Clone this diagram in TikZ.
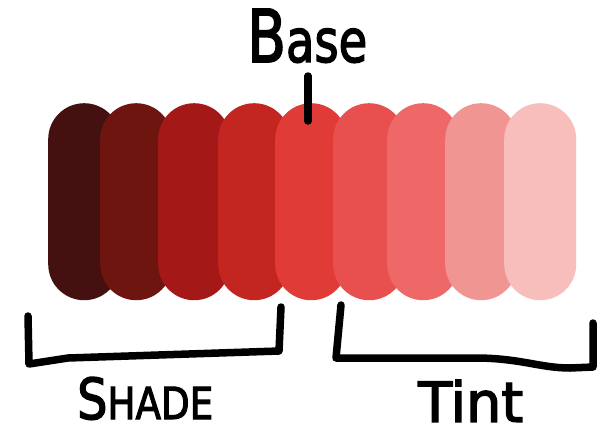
\documentclass[tikz,border=0pt]{standalone}
\usepackage{fontspec}
\newfontfamily\hand[FakeBold=2.6]{DejaVu Sans}
\usepackage{graphicx}
% tone ramp, darkest shade to lightest tint
\definecolor{c1}{HTML}{441010}
\definecolor{c2}{HTML}{6D150E}
\definecolor{c3}{HTML}{A41818}
\definecolor{c4}{HTML}{C32521}
\definecolor{c5}{HTML}{E03B36}
\definecolor{c6}{HTML}{E84F4F}
\definecolor{c7}{HTML}{EE6868}
\definecolor{c8}{HTML}{F19593}
\definecolor{c9}{HTML}{F7BEBC}
\begin{document}
\begin{tikzpicture}[x=1pt,y=-1pt,
  pill/.style={draw=none, rounded corners=36pt, minimum width=72pt,
    minimum height=197pt, inner sep=0pt, anchor=north west},
  ink/.style={line width=7.5pt, line cap=round, line join=round, black},
  txt/.style={inner sep=0pt, anchor=south west, font=\hand}]
\useasboundingbox (0,0) rectangle (601,426);
\fill[white] (0,0) rectangle (601,426);

% swatches, each one overlapping the previous
\foreach \x/\c [count=\i] in {48/c1,100/c2,158/c3,218/c4,275/c5,333/c6,387/c7,445/c8,504/c9}
  \node[pill, fill=\c] (p\i) at (\x,103) {};

% base marker
\coordinate (tickTop) at (308,76);
\coordinate (tickBot) at (308,121);
\draw[ink] (tickTop) -- (tickBot);
\node[txt] (base) at (247,63) {\resizebox{120pt}{53pt}{B\fontsize{8.2pt}{9pt}\selectfont ase}};

% shade bracket
\coordinate (sA) at (28,316);
\coordinate (sB) at (29,364);
\coordinate (sC) at (68,358);
\coordinate (sD) at (279,351);
\coordinate (sE) at (281,307);
\draw[ink] (sA) -- (sB) -- (sC) -- (sD) -- (sE);
\node[txt] (shade) at (77,420)
  {\resizebox{136pt}{42pt}{S{\fontsize{7.8pt}{9pt}\selectfont HADE}}};

% tint bracket
\coordinate (tA) at (341,305);
\coordinate (tB) at (336,358);
\coordinate (tC) at (475,358);
\coordinate (tD) at (570,368);
\coordinate (tE) at (593,367);
\coordinate (tF) at (593,323);
\draw[ink] (tA) -- (tB) -- (tC) .. controls (520,358) and (540,368) .. (tD) -- (tE) -- (tF);
\node[txt] (tint) at (418,422) {\resizebox{105pt}{42pt}{Tint}};
\end{tikzpicture}
\end{document}
